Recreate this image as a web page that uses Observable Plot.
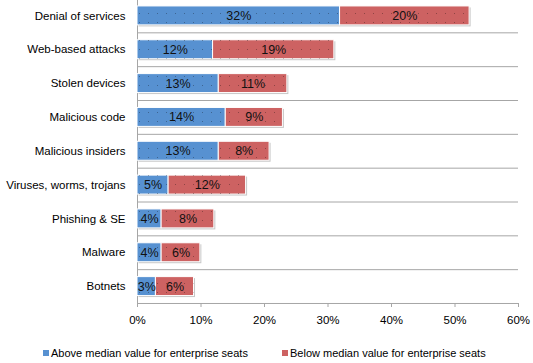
<!DOCTYPE html>
<html><head><meta charset="utf-8">
<script src="https://cdn.jsdelivr.net/npm/d3@7"></script>
<script src="https://cdn.jsdelivr.net/npm/@observablehq/plot@0.6"></script>
<style>
body{margin:0;background:#fff;font-family:"Liberation Sans",Arial,sans-serif;}
#wrap{position:relative;width:533px;height:363px;}
#legend{position:absolute;left:0;top:335px;width:533px;height:28px;font-size:11px;color:#000;}
.item{position:absolute;top:12px;white-space:nowrap;}
.sw{display:inline-block;width:6px;height:6px;margin-right:2px;vertical-align:1px;}
</style></head>
<body><div id="wrap"><div id="chart"></div><div id="legend"></div></div>
<script>
const categories = ["Denial of services","Web-based attacks","Stolen devices","Malicious code","Malicious insiders","Viruses, worms, trojans","Phishing & SE","Malware","Botnets"];
const above = [31.9, 11.9, 12.8, 13.9, 12.8, 4.9, 3.8, 3.8, 2.9];
const below = [20.4, 19.1, 10.8, 9.0, 8.0, 12.2, 8.3, 6.1, 6.0];
const series = ["Above median value for enterprise seats","Below median value for enterprise seats"];
const colors = ["#5791D1","#CD6262"];
const xTicks = [0, 10, 20, 30, 40, 50, 60];

const rows = [];
categories.forEach((c, i) => {
  rows.push({cat: c, series: series[0], value: above[i]});
  rows.push({cat: c, series: series[1], value: below[i]});
});

const W = 533, H = 335, ML = 137, MR = 15, MB = 32;
const yRange = [-1.5, H - MB];
const step = (yRange[1] - yRange[0]) / categories.length;

const stackOpts = (extra) => Plot.stackX({x: "value", y: "cat", z: "series", ...extra});

const chart = Plot.plot({
  width: W, height: H,
  marginLeft: ML, marginRight: MR, marginTop: 0, marginBottom: MB,
  style: {fontFamily: '"Liberation Sans", Arial, sans-serif', background: "#fff"},
  x: {domain: [0, 60]},
  y: {domain: categories, range: yRange, paddingInner: 0.44, paddingOuter: 0.22, round: false},
  color: {domain: series, range: colors},
  marks: [
    Plot.ruleY(categories, {y: d => d, dy: step / 2, x1: 0, x2: 60, stroke: "#a6a6a6", strokeWidth: 1}),
    Plot.ruleX([0], {stroke: "#a6a6a6"}),
    Plot.barX(rows, stackOpts({fill: "#000", fillOpacity: 0.22, dx: 1.5, dy: 1.5})),
    Plot.barX(rows, stackOpts({fill: "series", stroke: "#fff", strokeWidth: 1})),
    Plot.barX(rows, stackOpts({fill: "url(#dots)", stroke: "none"})),
    Plot.text(rows, stackOpts({text: d => Math.round(d.value) + "%", fontSize: 12.5, fill: "#111"})),
    Plot.axisX({ticks: xTicks, tickFormat: d => d + "%", tickSize: 4, tickPadding: 8, fontSize: 11.5, stroke: "#a6a6a6", fill: "#000", label: null}),
    Plot.axisY({tickSize: 0, tickPadding: 12, fontSize: 11.5, fill: "#000", label: null})
  ]
});

const ns = "http://www.w3.org/2000/svg";
const defs = document.createElementNS(ns, "defs");
const pat = document.createElementNS(ns, "pattern");
pat.setAttribute("id", "dots");
pat.setAttribute("width", 9);
pat.setAttribute("height", 9);
pat.setAttribute("patternUnits", "userSpaceOnUse");
const dot = document.createElementNS(ns, "rect");
dot.setAttribute("x", 4); dot.setAttribute("y", 4);
dot.setAttribute("width", 1); dot.setAttribute("height", 1);
dot.setAttribute("fill", "rgba(0,0,0,0.3)");
pat.appendChild(dot);
defs.appendChild(pat);
chart.insertBefore(defs, chart.firstChild);

document.getElementById("chart").appendChild(chart);

const lg = document.getElementById("legend");
const lefts = [43, 282];
series.forEach((s, i) => {
  const it = document.createElement("span");
  it.className = "item";
  it.style.left = lefts[i] + "px";
  it.innerHTML = `<span class="sw" style="background:${colors[i]}"></span>`;
  it.appendChild(document.createTextNode(s));
  lg.appendChild(it);
});
</script>
</body></html>
